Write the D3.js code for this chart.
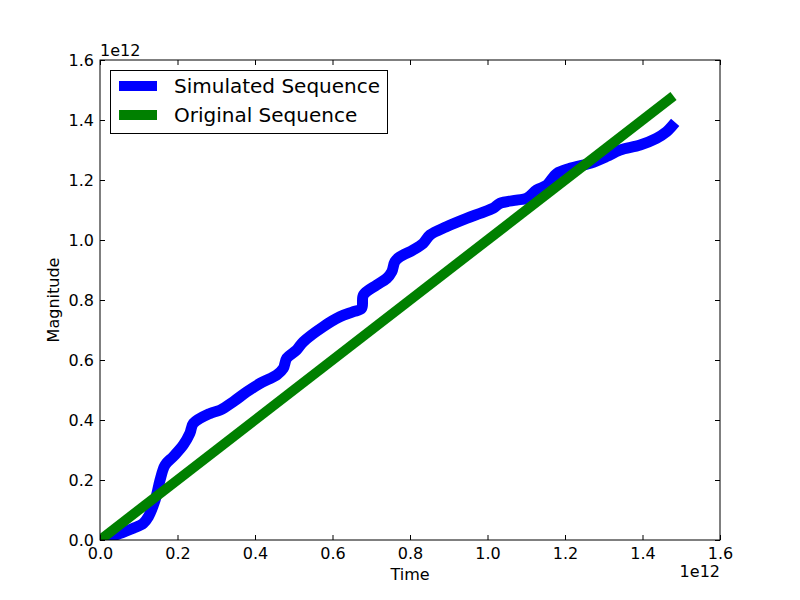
<!DOCTYPE html>
<html><head><meta charset="utf-8">
<script src="https://cdn.jsdelivr.net/npm/d3@7"></script>
<style>body{margin:0;background:#fff}svg{display:block}text{font-family:"DejaVu Sans",sans-serif;fill:#000}</style>
</head><body>
<script>
// values in units of 1e12
const simX = [0.017,0.052,0.086,0.112,0.125,0.138,0.146,0.155,0.168,0.189,0.215,0.232,0.241,0.284,0.31,0.344,0.379,0.413,0.456,0.473,0.482,0.507,0.525,0.576,0.619,0.654,0.675,0.68,0.714,0.74,0.753,0.761,0.774,0.808,0.834,0.852,0.894,0.946,0.981,1.015,1.032,1.075,1.101,1.127,1.153,1.179,1.213,1.265,1.307,1.342,1.394,1.436,1.462,1.475];
const simY = [0.006,0.022,0.039,0.056,0.078,0.117,0.15,0.2,0.25,0.278,0.317,0.356,0.389,0.422,0.433,0.461,0.494,0.522,0.55,0.572,0.606,0.633,0.661,0.711,0.744,0.761,0.772,0.817,0.85,0.872,0.894,0.928,0.944,0.967,0.989,1.017,1.044,1.072,1.089,1.106,1.122,1.133,1.139,1.167,1.183,1.222,1.239,1.256,1.278,1.3,1.317,1.339,1.361,1.378];
const origX = [0.0, 1.48];
const origY = [0.0, 1.48];
const ticks = [0.0,0.2,0.4,0.6,0.8,1.0,1.2,1.4,1.6];
const seriesNames = ["Simulated Sequence","Original Sequence"];
const colors = ["#0000ff","#008000"];

const W=800,H=600, L=100,R=720,T=60,B=540;
const svg=d3.select("body").append("svg").attr("width",W).attr("height",H);
const x=d3.scaleLinear().domain([0,1.6]).range([L,R]);
const y=d3.scaleLinear().domain([0,1.6]).range([B,T]);
svg.append("clipPath").attr("id","c").append("rect").attr("x",L).attr("y",T).attr("width",R-L).attr("height",B-T);
const g=svg.append("g").attr("clip-path","url(#c)");
const line=d3.line().x(d=>x(d[0])).y(d=>y(d[1])).curve(d3.curveCatmullRom.alpha(0.5));
g.append("path").datum(simX.map((v,i)=>[v,simY[i]])).attr("d",line).attr("fill","none")
 .attr("stroke",colors[0]).attr("stroke-width",11).attr("stroke-linejoin","round").attr("stroke-linecap","square");
g.append("path").datum(origX.map((v,i)=>[v,origY[i]])).attr("d",d3.line().x(d=>x(d[0])).y(d=>y(d[1]))).attr("fill","none")
 .attr("stroke",colors[1]).attr("stroke-width",10).attr("stroke-linecap","butt");

const fmt=d3.format(".1f");
const fs=16;
svg.append("g").attr("transform",`translate(0,${B})`).call(d3.axisBottom(x).tickValues(ticks).tickSize(-5).tickPadding(8).tickFormat(fmt))
  .call(a=>{a.select(".domain").remove();a.selectAll("text").attr("font-size",fs).attr("font-family","DejaVu Sans");});
svg.append("g").attr("transform",`translate(0,${T})`).call(d3.axisTop(x).tickValues(ticks).tickSize(-5).tickFormat(""))
  .call(a=>a.select(".domain").remove());
svg.append("g").attr("transform",`translate(${L},0)`).call(d3.axisLeft(y).tickValues(ticks).tickSize(-5).tickPadding(6).tickFormat(fmt))
  .call(a=>{a.select(".domain").remove();a.selectAll("text").attr("font-size",fs).attr("font-family","DejaVu Sans");});
svg.append("g").attr("transform",`translate(${R},0)`).call(d3.axisRight(y).tickValues(ticks).tickSize(-5).tickFormat(""))
  .call(a=>a.select(".domain").remove());
svg.append("rect").attr("x",L).attr("y",T).attr("width",R-L).attr("height",B-T).attr("fill","none").attr("stroke","#000").attr("stroke-width",1);

svg.append("text").attr("x",L).attr("y",56).attr("font-size",fs).text("1e12");
svg.append("text").attr("x",R).attr("y",577).attr("text-anchor","end").attr("font-size",fs).text("1e12");
svg.append("text").attr("x",(L+R)/2).attr("y",580).attr("text-anchor","middle").attr("font-size",fs).text("Time");
svg.append("text").attr("transform",`translate(59,${(T+B)/2}) rotate(-90)`).attr("text-anchor","middle").attr("font-size",fs).text("Magnitude");

const lg=svg.append("g");
lg.append("rect").attr("x",110.5).attr("y",70.5).attr("width",277).attr("height",63).attr("fill","#fff").attr("stroke","#000");
seriesNames.forEach((n,i)=>{
  const yy=86+i*29;
  lg.append("line").attr("x1",119).attr("x2",157).attr("y1",yy).attr("y2",yy).attr("stroke",colors[i]).attr("stroke-width",10);
  lg.append("text").attr("x",174).attr("y",yy+7).attr("font-size",20).text(n);
});
</script>
</body></html>
